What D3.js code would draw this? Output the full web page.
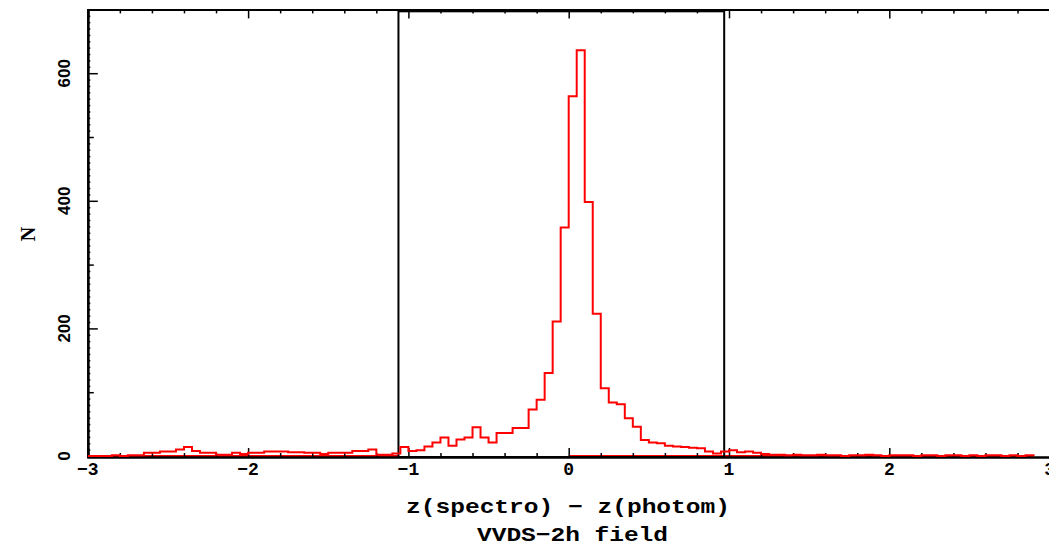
<!DOCTYPE html>
<html>
<head>
<meta charset="utf-8">
<script src="https://cdn.jsdelivr.net/npm/d3@7"></script>
<style>
  html, body { margin: 0; padding: 0; background: #fff; }
  svg { display: block; }
</style>
</head>
<body>
<svg id="chart" width="1049" height="544"></svg>
<script>
// ---- data ----
const binStart = -3.0;      // left edge of first bin
const binWidth = 0.05;      // bin width in z units
// counts per bin, from -3.00 up to 2.90
const counts = [
  0, 0, 0, 1, 0, 1, 1, 5, 5, 7,        // -3.00 .. -2.55
  7, 10, 14, 8, 5, 5, 2, 2, 5, 3,      // -2.50 .. -2.05
  5, 5, 7, 7, 7, 6, 6, 5, 5, 3,        // -2.00 .. -1.55
  5, 5, 5, 8, 8, 10, 2, 2, 4, 14,      // -1.50 .. -1.05
  8, 9, 15, 21, 29, 16, 26, 29, 45, 29,// -1.00 .. -0.55
  21, 36, 36, 44, 44, 73, 88, 130, 211, 358, // -0.50 .. -0.05
  564, 636, 398, 223, 106, 84, 81, 59, 46, 25, // 0.00 .. 0.45
  21, 20, 16, 15, 14, 13, 12, 7, 4, 7, // 0.50 .. 0.95
  9, 6, 7, 5, 3, 2, 2, 1, 2, 1,        // 1.00 .. 1.45
  1, 2, 1, 1, 0, 1, 1, 2, 1, 0,        // 1.50 .. 1.95
  1, 1, 1, 0, 1, 1, 0, 1, 1, 0,        // 2.00 .. 2.45
  1, 0, 1, 1, 0, 1, 0, 1               // 2.50 .. 2.85
];
const xTickMajor = [-3, -2, -1, 0, 1, 2, 3];
const xTickLabels = ["\u22123", "\u22122", "\u22121", "0", "1", "2", "3"];
const yTickMajor = [0, 200, 400, 600];
const yTickLabels = ["0", "200", "400", "600"];
const yTickMedium = [100, 300, 500];
const boxX = [-1.062, 0.970];   // selection window
const boxTop = 697;
const zeroLineRanges = [[-3.0, -1.062], [0.0, 2.90]];
const xTitle = "z(spectro) \u2212 z(photom)";
const subTitle = "VVDS\u22122h field";
const yTitle = "N";

// ---- layout ----
const svg = d3.select("#chart");
const x = d3.scaleLinear().domain([-3, 3]).range([87.8, 1049.6]);
const y = d3.scaleLinear().domain([0, 700]).range([456, 9.4]);

const xMinor = d3.range(-30, 31, 2).map(v => v / 10).filter(v => !xTickMajor.includes(Math.round(v*10)/10));
const yMinor = d3.range(0, 701, 10).filter(v => v % 100 !== 0);

// ---- histogram ----
const pts = [[binStart, 0]];
counts.forEach((c, i) => pts.push([binStart + i * binWidth, c]));
const endX = binStart + counts.length * binWidth;
pts.push([endX, counts[counts.length - 1]]);
pts.push([endX, 0]);
const line = d3.line().x(d => x(d[0])).y(d => y(d[1])).curve(d3.curveStepAfter);

// zero line in red
svg.selectAll("line.zero").data(zeroLineRanges).enter().append("line")
  .attr("x1", d => x(d[0])).attr("x2", d => x(d[1]))
  .attr("y1", y(0)).attr("y2", y(0))
  .attr("stroke", "#ff0000").attr("stroke-width", 2);

// ---- axes ----
const gB = svg.append("g").attr("transform", `translate(0,${y(0) + 1})`);
gB.call(d3.axisBottom(x).tickValues(xMinor).tickSize(-4).tickFormat(""));
gB.append("g").call(d3.axisBottom(x).tickValues(xTickMajor).tickSize(-9).tickFormat(""));
const gT = svg.append("g").attr("transform", `translate(0,${y(700)})`);
gT.call(d3.axisTop(x).tickValues(xMinor).tickSize(-4).tickFormat(""));
gT.append("g").call(d3.axisTop(x).tickValues(xTickMajor).tickSize(-9).tickFormat(""));
const gL = svg.append("g").attr("transform", `translate(${x(-3)},0)`);
gL.call(d3.axisLeft(y).tickValues(yMinor).tickSize(-2.5).tickFormat(""));
gL.append("g").call(d3.axisLeft(y).tickValues(yTickMedium).tickSize(-6).tickFormat(""));
gL.append("g").call(d3.axisLeft(y).tickValues(yTickMajor).tickSize(-10).tickFormat(""));
svg.selectAll(".domain").attr("stroke", "#000").attr("stroke-width", 2);
svg.selectAll(".tick line").attr("stroke", "#000").attr("stroke-width", 1.5);

// box (selection window)
svg.append("rect")
  .attr("x", x(boxX[0])).attr("y", y(boxTop))
  .attr("width", x(boxX[1]) - x(boxX[0]))
  .attr("height", y(0) + 1 - y(boxTop))
  .attr("fill", "none").attr("stroke", "#000").attr("stroke-width", 2);

// histogram path
svg.append("path").datum(pts)
  .attr("d", line)
  .attr("fill", "none").attr("stroke", "#ff0000").attr("stroke-width", 2);

// ---- labels ----
svg.selectAll("text.xl").data(xTickMajor).enter().append("text")
  .attr("x", d => x(d)).attr("y", 475)
  .attr("text-anchor", "middle")
  .attr("font-family", "Liberation Mono, monospace").attr("font-weight", "bold")
  .attr("font-size", 18)
  .text((d, i) => xTickLabels[i]);

svg.selectAll("text.yl").data(yTickMajor).enter().append("text")
  .attr("transform", d => `translate(${x(-3) - 18},${y(d)}) rotate(-90)`)
  .attr("text-anchor", "middle")
  .attr("font-family", "Liberation Sans, Arial, sans-serif").attr("font-weight", "bold")
  .attr("font-size", 17)
  .text((d, i) => yTickLabels[i]);

svg.append("text")
  .attr("transform", `translate(35,234) rotate(-90)`)
  .attr("text-anchor", "middle")
  .attr("font-family", "Liberation Serif, serif").attr("font-weight", "bold")
  .attr("font-size", 20)
  .text(yTitle);

svg.append("text")
  .attr("x", 406).attr("y", 513)
  .attr("textLength", 324).attr("lengthAdjust", "spacingAndGlyphs")
  .attr("font-family", "Liberation Mono, monospace").attr("font-weight", "bold")
  .attr("font-size", 21)
  .text(xTitle);

svg.append("text")
  .attr("x", 477).attr("y", 541)
  .attr("textLength", 191).attr("lengthAdjust", "spacingAndGlyphs")
  .attr("font-family", "Liberation Mono, monospace").attr("font-weight", "bold")
  .attr("font-size", 21)
  .text(subTitle);
</script>
</body>
</html>
